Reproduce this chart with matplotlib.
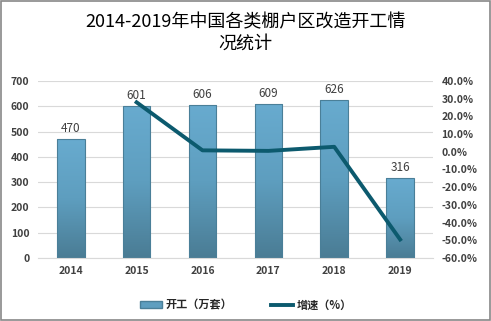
import matplotlib
matplotlib.use("Agg")
from matplotlib import pyplot as plt
from matplotlib.lines import Line2D
from matplotlib.patches import Patch
from matplotlib.colors import LinearSegmentedColormap
import numpy as np

plt.rcParams['font.family'] = ['Noto Sans CJK SC', 'DejaVu Sans']

years = ['2014', '2015', '2016', '2017', '2018', '2019']
starts = [470, 601, 606, 609, 626, 316]
growth_years = ['2015', '2016', '2017', '2018', '2019']
growth = [27.9, 0.8, 0.5, 2.8, -49.5]

x = np.arange(len(years))
gx = [years.index(y) for y in growth_years]

fig = plt.figure(figsize=(4.91, 3.21), dpi=100)
fig.patches.append(plt.Rectangle((0.002, 0.003), 0.995, 0.994, transform=fig.transFigure,
                                 fill=False, edgecolor='#888888', linewidth=1.2))

ax = fig.add_axes([0.077, 0.196, 0.805, 0.552])
bars = ax.bar(x, starts, width=0.42, color='none', edgecolor='#4a7f98', linewidth=0.8, zorder=3)

# vertical gradient inside each bar
cmap = LinearSegmentedColormap.from_list('bar', ['#4a7c94', '#5e9ebf', '#68abcf'])
grad = np.linspace(0, 1, 256).reshape(-1, 1)
for b in bars:
    x0, w, h = b.get_x(), b.get_width(), b.get_height()
    im = ax.imshow(grad, cmap=cmap, aspect='auto', origin='lower',
                   extent=(x0, x0 + w, 0, h), zorder=2)
    im.set_clip_path(b)

for xi, v in zip(x, starts):
    ax.text(xi, v + 15, str(v), ha='center', va='bottom', fontsize=8.5, color='#404040')

ax.set_xlim(-0.5, 5.5)
ax.set_ylim(0, 700)
ax.set_yticks(range(0, 701, 100))
ax.set_xticks(x)
ax.set_xticklabels(years)
ax.grid(axis='y', color='#d9d9d9', linewidth=0.8, zorder=0)
ax.set_axisbelow(True)
ax.tick_params(length=0, labelsize=7.5, labelcolor='#404040', pad=6)
for lab in ax.get_xticklabels() + ax.get_yticklabels():
    lab.set_fontweight('bold')
for s in ['top', 'right', 'left']:
    ax.spines[s].set_visible(False)
ax.spines['bottom'].set_color('#d9d9d9')

ax2 = ax.twinx()
ax2.plot(gx, growth, color='#0c5a6e', linewidth=2.8, zorder=3)
ax2.set_ylim(-60, 40)
ax2.set_yticks(range(-60, 41, 10))
ax2.set_yticklabels(['%.1f%%' % t for t in range(-60, 41, 10)])
ax2.tick_params(length=0, labelsize=7.5, labelcolor='#404040', pad=6)
for lab in ax2.get_yticklabels():
    lab.set_fontweight('bold')
for s in ax2.spines.values():
    s.set_visible(False)

fig.text(0.5, 0.96, '2014-2019年中国各类棚户区改造开工情\n况统计', ha='center', va='top',
         fontsize=13, linespacing=1.25, color='black')

handles = [Patch(facecolor='#5e9ebf', edgecolor='#4a7f98'),
           Line2D([0], [0], color='#0c5a6e', linewidth=2.8)]
leg = fig.legend(handles, ['开工（万套）', '增速（%）'], loc='center', bbox_to_anchor=(0.5, 0.05),
                 ncol=2, frameon=False, fontsize=8, handlelength=2.0, handleheight=0.5,
                 columnspacing=3.5, handletextpad=0.3)
for t in leg.get_texts():
    t.set_fontweight('bold')
    t.set_color('#262626')

fig.savefig('out.png', dpi=100)
